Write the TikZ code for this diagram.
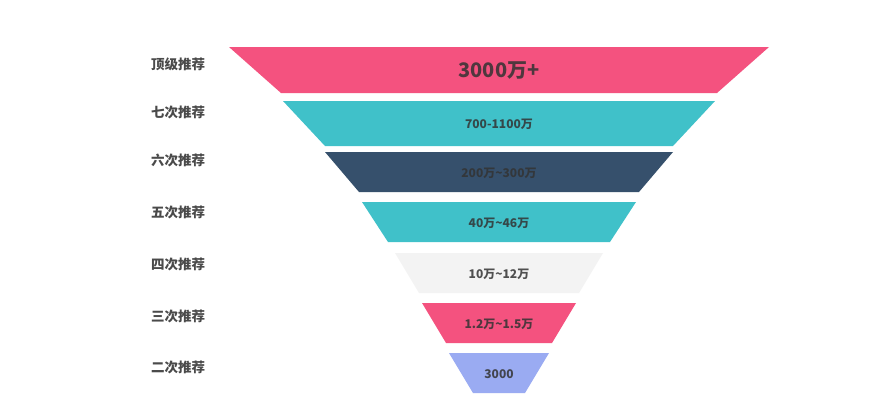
\documentclass[tikz,border=0pt]{standalone}
\usepackage{fontspec}
\setmainfont{Noto Sans CJK SC}

\definecolor{funnelpink}{HTML}{F4527F}
\definecolor{funnelteal}{HTML}{40C1C9}
\definecolor{funnelnavy}{HTML}{36506C}
\definecolor{funnelgray}{HTML}{F3F3F3}
\definecolor{funnelblue}{HTML}{9AABF2}
\definecolor{labelgray}{HTML}{4A4A4A}
\definecolor{valuegray}{HTML}{333333}

\begin{document}
\begin{tikzpicture}[x=1pt,y=-1pt,
    lab/.style={text=labelgray,font=\fontsize{13.5}{16}\selectfont\bfseries,inner sep=0pt},
    val/.style={text=valuegray,text opacity=0.85,font=\fontsize{12}{14}\selectfont\bfseries,inner sep=0pt}]

    % 画布
    \path[fill=white] (0,0) rectangle (892,400);

    % 漏斗各层
    \foreach \i/\ty/\by/\tw/\bw/\c in {1/47/93/270/218/funnelpink,
            2/101/146/216/174/funnelteal,
            3/152/192/174/140/funnelnavy,
            4/202/242/137/111/funnelteal,
            5/253/293/104/80/funnelgray,
            6/303/343/77/53/funnelpink,
            7/353/393/50/26/funnelblue} {
            \fill[\c] (499-\tw,\ty) -- (499+\tw,\ty) -- (499+\bw,\by) -- (499-\bw,\by) -- cycle;
            \coordinate (b\i) at (499,{(\ty+\by)/2+1});
        }

    % 左侧层级名称
    \foreach \i/\y/\t in {1/64/顶级推荐,2/112/七次推荐,3/160/六次推荐,4/212/五次推荐,
            5/264/四次推荐,6/316/三次推荐,7/367/二次推荐} {
            \node[lab] (l\i) at (178,\y) {\t};
        }

    % 各层数值
    \node[val,font=\fontsize{20}{24}\selectfont\bfseries] (v1) at (b1) {3000万+};
    \node[val] (v2) at (b2) {700-1100万};
    \node[val] (v3) at (b3) {200万\textasciitilde300万};
    \node[val] (v4) at (b4) {40万\textasciitilde46万};
    \node[val] (v5) at (b5) {10万\textasciitilde12万};
    \node[val] (v6) at (b6) {1.2万\textasciitilde1.5万};
    \node[val] (v7) at (b7) {3000};

\end{tikzpicture}
\end{document}
